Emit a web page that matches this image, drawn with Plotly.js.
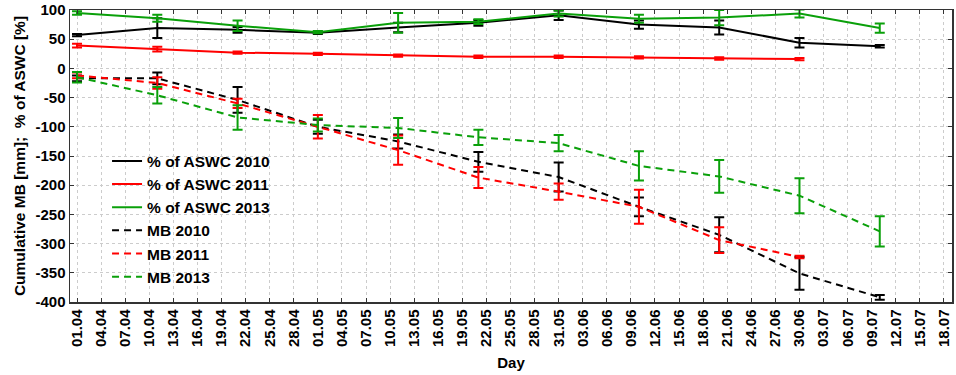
<!DOCTYPE html>
<html>
<head>
<meta charset="utf-8">
<script src="https://cdn.plot.ly/plotly-3.0.1.min.js"></script>
<style>html,body{margin:0;padding:0;background:#fff;}#chart{width:956px;height:375px;}</style>
</head>
<body>
<div id="chart"></div>
<script>
// Sampling dates (every 10 days)
const dates = ['2010-04-01','2010-04-11','2010-04-21','2010-05-01','2010-05-11','2010-05-21','2010-05-31','2010-06-10','2010-06-20','2010-06-30','2010-07-10'];

// % of ASWC
const aswc2010 = [57, 69, 66, 61, 70, 78, 91, 75, 70, 44, 38];
const aswc2010Err = [2, 17, 5, 2, 8, 5, 8, 7, 12, 8, 2];
const aswc2011 = [39, 33, 27, 25, 22, 20, 20, 19, 17, 16];
const aswc2011Err = [3, 4, 2, 2, 2, 2, 2, 2, 2, 2];
const aswc2013 = [95, 86, 73, 62, 78, 80, 94, 85, 87, 94, 69];
const aswc2013Err = [3, 6, 9, 2, 17, 4, 5, 7, 13, 7, 8];

// Cumulative MB
const mb2010 = [-17, -17, -54, -100, -125, -160, -186, -237, -285, -351, -392];
const mb2010Err = [5, 10, 22, 12, 12, 17, 25, 16, 30, 28, 4];
const mb2011 = [-12, -25, -60, -100, -140, -187, -211, -237, -294, -323];
const mb2011Err = [5, 10, 8, 20, 25, 18, 14, 29, 22, 2];
const mb2013 = [-15, -46, -84, -97, -102, -118, -128, -167, -185, -218, -279];
const mb2013Err = [9, 14, 21, 11, 17, 13, 14, 25, 28, 30, 26];

const yTickVals = [100, 50, 0, -50, -100, -150, -200, -250, -300, -350, -400];
const yTickText = ['100', '50', '0', '-50', '-100', '-150', '-200', '-250', '-300', '-350', '-400'];

const BLACK = '#000000', RED = '#ff0000', GREEN = '#0aa00a';

function tr(name, y, err, color, dash) {
  return {
    type: 'scatter', mode: 'lines', name: name,
    x: dates.slice(0, y.length), y: y,
    line: {color: color, width: 2, dash: dash},
    error_y: {type: 'data', array: err, visible: true, color: color, thickness: 2, width: 5}
  };
}

const data = [
  tr('% of ASWC 2010', aswc2010, aswc2010Err, BLACK, 'solid'),
  tr('% of ASWC 2011', aswc2011, aswc2011Err, RED, 'solid'),
  tr('% of ASWC 2013', aswc2013, aswc2013Err, GREEN, 'solid'),
  tr('MB 2010', mb2010, mb2010Err, BLACK, '7px,5px'),
  tr('MB 2011', mb2011, mb2011Err, RED, '7px,5px'),
  tr('MB 2013', mb2013, mb2013Err, GREEN, '7px,5px')
];

const font = {family: 'Liberation Sans, Arial, sans-serif', color: '#000'};

const layout = {
  width: 956, height: 375,
  margin: {l: 70, r: 4, t: 10, b: 73},
  paper_bgcolor: '#fff', plot_bgcolor: '#fff',
  font: Object.assign({size: 13}, font),
  showlegend: true,
  legend: {
    x: 0.042, y: 0.54, xanchor: 'left', yanchor: 'top',
    bgcolor: 'rgba(0,0,0,0)', borderwidth: 0,
    font: {family: font.family, size: 15.5, color: '#000', weight: 'bold'}
  },
  xaxis: {
    type: 'date',
    range: ['2010-03-31 03:00', '2010-07-19 00:00'],
    tick0: '2010-04-01', dtick: 3 * 86400000,
    tickformat: '%d.%m', tickangle: -90,
    tickfont: {family: font.family, size: 15, color: '#000', weight: 'bold'},
    ticks: 'inside', ticklen: 4, tickcolor: '#333',
    showline: true, linecolor: '#333', linewidth: 1.5, mirror: 'ticks',
    showgrid: true, gridcolor: '#cccccc', griddash: 'dot', gridwidth: 1,
    zeroline: false,
    title: {text: 'Day', font: {family: font.family, size: 15, color: '#000', weight: 'bold'}, standoff: 11}
  },
  yaxis: {
    range: [-400, 100],
    tickvals: yTickVals, ticktext: yTickText,
    tickfont: {family: font.family, size: 15, color: '#000', weight: 'bold'},
    ticks: 'inside', ticklen: 4, tickcolor: '#333',
    showline: true, linecolor: '#333', linewidth: 1.5, mirror: 'ticks',
    showgrid: true, gridcolor: '#cccccc', griddash: 'dot', gridwidth: 1,
    zeroline: false,
    title: {text: 'Cumulative MB [mm];  % of ASWC [%]', font: {family: font.family, size: 15.5, color: '#000', weight: 'bold'}, standoff: 6}
  }
};

Plotly.newPlot('chart', data, layout, {displayModeBar: false, staticPlot: true});
</script>
</body>
</html>
